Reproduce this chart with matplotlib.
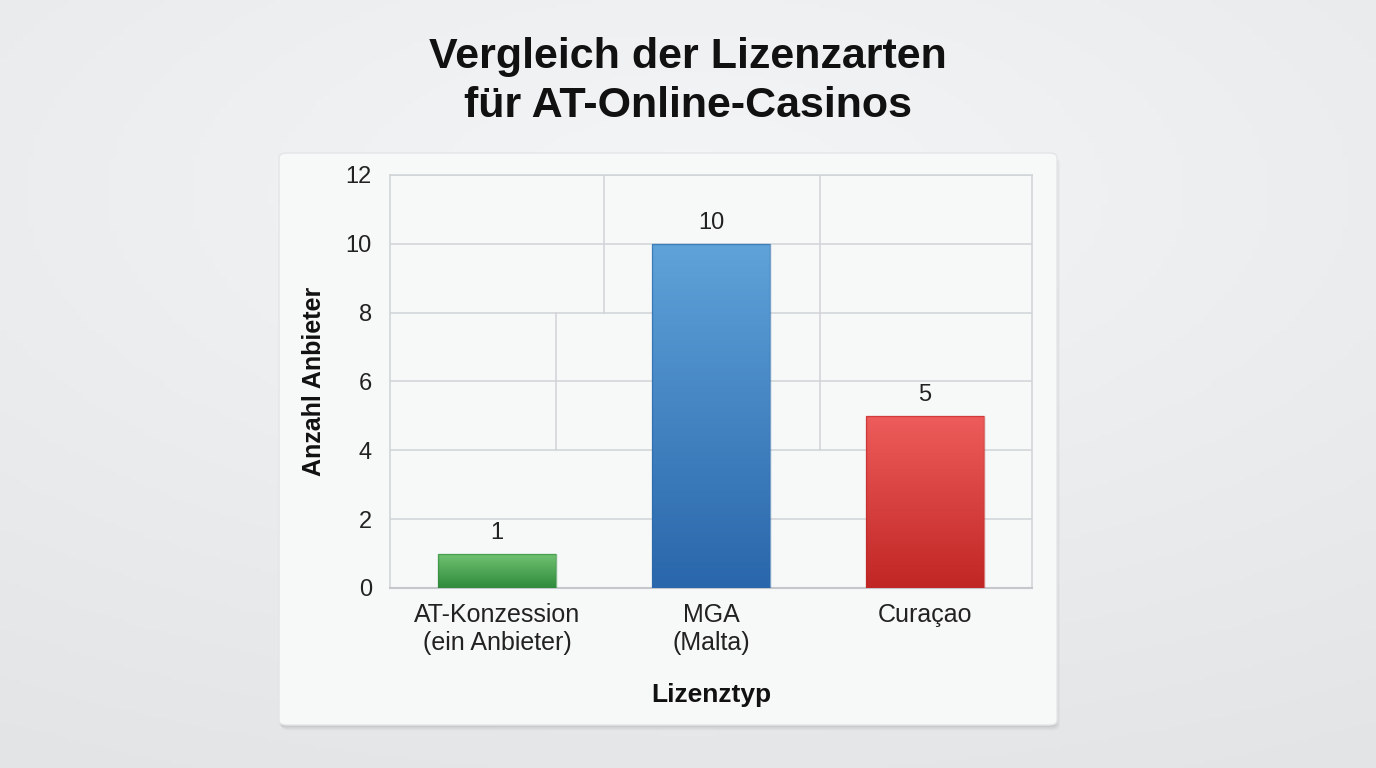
import numpy as np
import matplotlib
matplotlib.use("Agg")
import matplotlib.pyplot as plt
from matplotlib.patches import FancyBboxPatch
from matplotlib.colors import LinearSegmentedColormap

plt.rcParams['font.family'] = ['Liberation Sans', 'DejaVu Sans']

# Data
categories = ["AT-Konzession\n(ein Anbieter)", "MGA\n(Malta)", "Curaçao"]
values = [1, 10, 5]
top_colors = ["#72c472", "#5fa3d9", "#ee5d5b"]
bottom_colors = ["#2f8a3c", "#2966ab", "#c02624"]
yticks = [0, 2, 4, 6, 8, 10, 12]
title = "Vergleich der Lizenzarten\nfür AT-Online-Casinos"
xlabel = "Lizenztyp"
ylabel = "Anzahl Anbieter"

fig = plt.figure(figsize=(13.76, 7.68), dpi=100)

# background gradient
bg = fig.add_axes([0, 0, 1, 1], zorder=-10)
yy, xx = np.mgrid[0:1:200j, 0:1:200j]
r = np.sqrt((xx - 0.5) ** 2 * 1.0 + (yy - 0.75) ** 2 * 1.4)
bgcmap = LinearSegmentedColormap.from_list("bg", ["#f4f5f6", "#e2e4e6"])
bg.imshow(r, cmap=bgcmap, extent=[0, 1, 0, 1], aspect="auto", origin="lower")
bg.set_axis_off()

# panel with shadow
for i, a in enumerate([0.05, 0.04, 0.03]):
    sh = FancyBboxPatch((0.2028 + 0.001 * i, 0.056 - 0.003 - 0.002 * i), 0.5654, 0.7448,
                        boxstyle="round,pad=0,rounding_size=0.006",
                        transform=fig.transFigure, facecolor="black", edgecolor="none",
                        alpha=a, zorder=-5)
    fig.patches.append(sh)
panel = FancyBboxPatch((0.2028, 0.056), 0.5654, 0.7448,
                       boxstyle="round,pad=0,rounding_size=0.006",
                       transform=fig.transFigure, facecolor="#f7f8f8",
                       edgecolor="#e3e5e7", linewidth=1, zorder=-4)
fig.patches.append(panel)

ax = fig.add_axes([0.2834, 0.2344, 0.4666, 0.5378])
ax.set_facecolor("none")
x = np.arange(len(categories))
bars = ax.bar(x, values, width=0.55, color=bottom_colors, edgecolor="none", zorder=3)

grad = np.linspace(0, 1, 256).reshape(-1, 1)
for b, ct, cb in zip(bars, top_colors, bottom_colors):
    cmap = LinearSegmentedColormap.from_list("g", [cb, ct])
    x0, y0 = b.get_x(), b.get_y()
    w, h = b.get_width(), b.get_height()
    im = ax.imshow(grad, cmap=cmap, extent=[x0, x0 + w, y0, y0 + h],
                   aspect="auto", origin="lower", zorder=3.5)
    im.set_clip_path(b)
    ax.bar(b.get_x() + w / 2, h, width=w, facecolor="none",
           edgecolor=cb, linewidth=1.0, alpha=0.6, zorder=4)

for xi, v in zip(x, values):
    ax.annotate(str(v), (xi, v), xytext=(0, 7), textcoords="offset points",
                ha="center", va="bottom", fontsize=17, color="#222222", zorder=5)

ax.set_xlim(-0.5, 2.5)
ax.set_ylim(0, 12)
ax.set_yticks(yticks)
ax.set_xticks(x)
ax.set_xticklabels(categories, fontsize=18, color="#222222", linespacing=1.2)
ax.tick_params(axis="y", labelsize=17, colors="#222222", length=0, pad=13)
ax.tick_params(axis="x", length=0, pad=11)
ax.yaxis.grid(True, color="#d0d4d7", linewidth=1.1, zorder=0)
ax.set_axisbelow(True)

# irregular vertical grid segments as in reference
grid_segments = [(0.5, 8, 12), (0.275, 4, 8), (1.51, 4, 12)]
for gx, g0, g1 in grid_segments:
    ax.plot([gx, gx], [g0, g1], color="#d0d4d7", linewidth=1.1, zorder=0.5)

for s in ["left", "top", "right"]:
    ax.spines[s].set_color("#d0d4d7")
    ax.spines[s].set_linewidth(1.1)
ax.spines["bottom"].set_color("#c4c8cb")
ax.spines["bottom"].set_linewidth(1.5)

ax.set_xlabel(xlabel, fontsize=19, fontweight="bold", labelpad=20, color="#111111")
ax.set_ylabel(ylabel, fontsize=18, fontweight="bold", labelpad=14, color="#111111")

fig.text(0.5, 0.894, title, ha="center", va="center", fontsize=31,
         fontweight="bold", color="#111111", linespacing=1.3)

fig.savefig("out.png", dpi=100)
